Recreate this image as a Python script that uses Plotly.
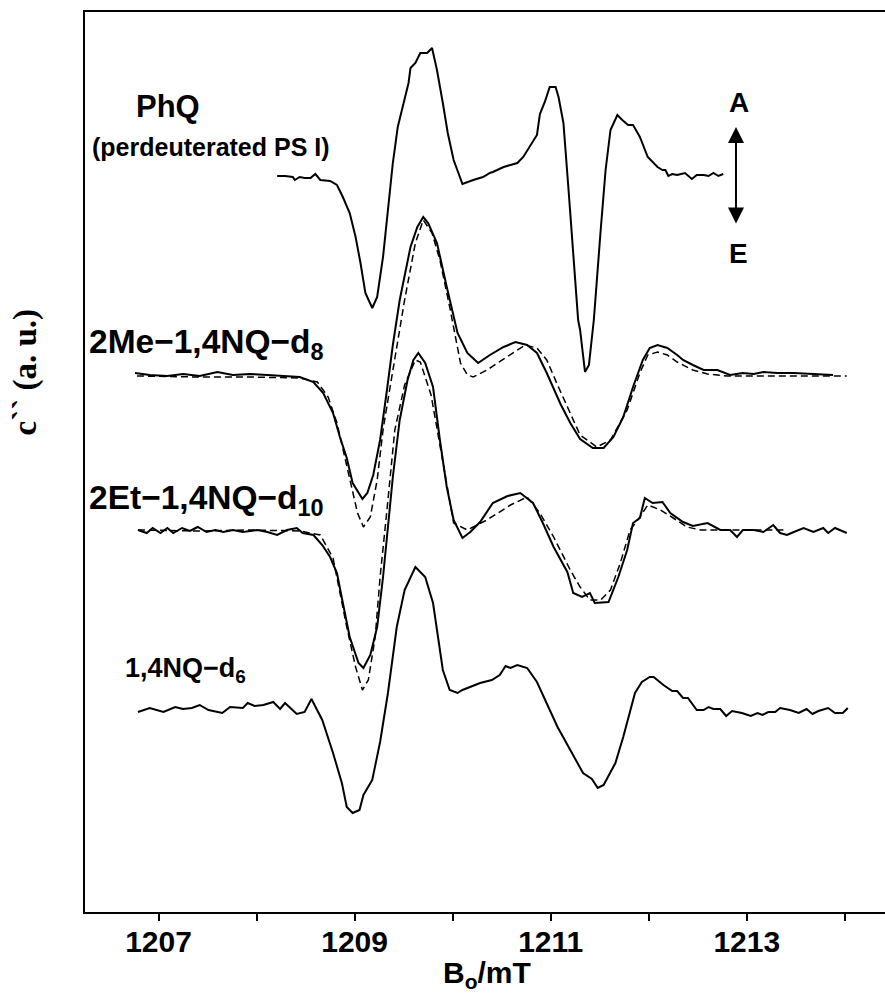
import plotly.graph_objects as go

# ---------------- data (field in mT, signal in arbitrary units) ----------------
offsets = {"PhQ": 7.35, "2Me": 5.37, "2Et": 3.81, "NQ": 2.02}

phq_x = [1208.21, 1208.29, 1208.37, 1208.39, 1208.44, 1208.49, 1208.55, 1208.60, 1208.65, 1208.75,
         1208.82, 1208.88, 1208.95, 1209.01, 1209.06, 1209.11, 1209.18, 1209.23, 1209.29, 1209.34,
         1209.39, 1209.44, 1209.51, 1209.55, 1209.57, 1209.62, 1209.67, 1209.74, 1209.79, 1209.84,
         1209.90, 1209.95, 1210.01, 1210.10, 1210.21, 1210.31, 1210.38, 1210.41, 1210.52, 1210.66,
         1210.72, 1210.81, 1210.86, 1210.89, 1210.94, 1210.99, 1211.05, 1211.08, 1211.13, 1211.18,
         1211.23, 1211.28, 1211.30, 1211.35, 1211.39, 1211.44, 1211.51, 1211.56, 1211.61, 1211.68,
         1211.73, 1211.79, 1211.84, 1211.91, 1211.99, 1212.09, 1212.14, 1212.17, 1212.20, 1212.24,
         1212.29, 1212.37, 1212.44, 1212.49, 1212.56, 1212.61, 1212.66, 1212.71, 1212.76]
phq_y = [0.01, 0.01, 0.00, -0.03, 0.00, -0.01, -0.01, 0.03, -0.03, -0.04,
         -0.08, -0.20, -0.36, -0.60, -0.86, -1.16, -1.31, -1.20, -0.80, -0.33,
         0.14, 0.50, 0.80, 0.94, 1.09, 1.14, 1.24, 1.24, 1.29, 1.07,
         0.74, 0.44, 0.17, -0.07, -0.03, 0.00, 0.04, 0.05, 0.10, 0.14,
         0.20, 0.34, 0.42, 0.63, 0.75, 0.90, 0.90, 0.80, 0.54, -0.10,
         -0.76, -1.43, -1.53, -1.95, -1.88, -1.43, -0.53, 0.07, 0.47, 0.62,
         0.57, 0.52, 0.52, 0.40, 0.20, 0.10, 0.07, 0.07, 0.01, 0.03,
         0.02, 0.04, -0.02, 0.02, 0.02, 0.01, 0.04, 0.01, 0.03]

me_x = [1206.76, 1206.91, 1207.09, 1207.25, 1207.42, 1207.60, 1207.76, 1207.93, 1208.11, 1208.27,
        1208.44, 1208.58, 1208.68, 1208.78, 1208.85, 1208.92, 1208.98, 1209.08, 1209.13, 1209.19,
        1209.26, 1209.33, 1209.39, 1209.46, 1209.57, 1209.64, 1209.70, 1209.75, 1209.84, 1209.94,
        1210.05, 1210.15, 1210.26, 1210.38, 1210.52, 1210.64, 1210.76, 1210.86, 1210.96, 1211.10,
        1211.20, 1211.30, 1211.43, 1211.54, 1211.64, 1211.74, 1211.84, 1211.94, 1212.01, 1212.09,
        1212.19, 1212.29, 1212.35, 1212.45, 1212.56, 1212.70, 1212.83, 1212.96, 1213.07, 1213.17,
        1213.31, 1213.48, 1213.68, 1213.88]
me_y = [0.02, 0.00, -0.01, 0.01, -0.01, 0.03, 0.00, 0.01, 0.00, -0.01,
        -0.02, -0.07, -0.18, -0.38, -0.62, -0.83, -1.08, -1.24, -1.18, -1.00,
        -0.65, -0.15, 0.30, 0.75, 1.28, 1.48, 1.58, 1.52, 1.32, 0.88,
        0.42, 0.22, 0.12, 0.20, 0.28, 0.33, 0.30, 0.22, 0.02, -0.29,
        -0.48, -0.64, -0.73, -0.73, -0.62, -0.42, -0.12, 0.15, 0.27, 0.30,
        0.27, 0.20, 0.15, 0.10, 0.05, 0.05, 0.00, 0.02, 0.01, 0.03,
        0.02, 0.02, 0.01, 0.00]

me_fit_x = [1206.78, 1207.42, 1207.93, 1208.44, 1208.62, 1208.73, 1208.82, 1208.92, 1209.03, 1209.09,
            1209.16, 1209.23, 1209.29, 1209.34, 1209.41, 1209.51, 1209.62, 1209.70, 1209.79, 1209.87,
            1209.97, 1210.08, 1210.15, 1210.21, 1210.35, 1210.56, 1210.74, 1210.86, 1210.96, 1211.07,
            1211.20, 1211.30, 1211.47, 1211.61, 1211.78, 1211.91, 1211.99, 1212.09, 1212.19, 1212.29,
            1212.45, 1212.60, 1212.80, 1214.02]
me_fit_y = [-0.01, -0.02, -0.02, -0.03, -0.07, -0.22, -0.48, -0.92, -1.38, -1.52,
            -1.42, -1.05, -0.55, -0.25, 0.15, 0.75, 1.32, 1.55, 1.42, 1.15,
            0.68, 0.12, 0.00, -0.02, 0.05, 0.18, 0.30, 0.27, 0.15, -0.10,
            -0.38, -0.60, -0.72, -0.65, -0.35, 0.02, 0.20, 0.23, 0.20, 0.13,
            0.05, 0.01, -0.01, -0.01]

et_x = [1206.79, 1206.88, 1206.94, 1207.02, 1207.09, 1207.15, 1207.24, 1207.32, 1207.40, 1207.49,
        1207.58, 1207.66, 1207.76, 1207.86, 1208.01, 1208.11, 1208.21, 1208.31, 1208.41, 1208.47,
        1208.58, 1208.67, 1208.75, 1208.82, 1208.87, 1208.95, 1209.04, 1209.09, 1209.16, 1209.23,
        1209.29, 1209.34, 1209.39, 1209.46, 1209.54, 1209.60, 1209.65, 1209.72, 1209.80, 1209.87,
        1209.94, 1210.01, 1210.10, 1210.18, 1210.28, 1210.41, 1210.56, 1210.69, 1210.82, 1210.92,
        1211.03, 1211.17, 1211.23, 1211.32, 1211.40, 1211.45, 1211.59, 1211.69, 1211.78, 1211.84,
        1211.91, 1211.96, 1212.04, 1212.14, 1212.22, 1212.35, 1212.45, 1212.60, 1212.73, 1212.83,
        1212.90, 1212.96, 1213.07, 1213.17, 1213.27, 1213.34, 1213.41, 1213.48, 1213.58, 1213.68,
        1213.78, 1213.83, 1213.90, 1214.02]
et_y = [0.01, -0.02, 0.03, -0.02, 0.03, -0.02, 0.03, 0.00, 0.04, -0.01,
        0.01, -0.01, 0.01, -0.01, 0.01, -0.01, -0.04, 0.01, 0.03, -0.02,
        -0.04, -0.14, -0.26, -0.42, -0.67, -1.06, -1.32, -1.37, -1.24, -0.96,
        -0.46, 0.04, 0.54, 1.11, 1.51, 1.71, 1.78, 1.68, 1.44, 0.91,
        0.44, 0.11, -0.07, -0.01, 0.09, 0.28, 0.35, 0.38, 0.28, 0.08,
        -0.16, -0.41, -0.62, -0.66, -0.62, -0.72, -0.71, -0.46, -0.19, 0.08,
        0.13, 0.33, 0.28, 0.29, 0.18, 0.09, 0.05, 0.08, 0.01, 0.01,
        -0.06, 0.01, 0.01, -0.01, 0.06, -0.02, -0.04, -0.01, 0.03, -0.01,
        0.03, -0.02, 0.03, -0.02]

et_fit_x = [1206.79, 1207.42, 1207.93, 1208.44, 1208.65, 1208.78, 1208.92, 1209.01, 1209.08, 1209.14,
            1209.21, 1209.26, 1209.33, 1209.41, 1209.51, 1209.62, 1209.67, 1209.78, 1209.87, 1209.94,
            1210.01, 1210.15, 1210.35, 1210.59, 1210.76, 1210.89, 1211.03, 1211.20, 1211.30, 1211.40,
            1211.51, 1211.61, 1211.71, 1211.81, 1211.91, 1211.99, 1212.12, 1212.25, 1212.39, 1212.53,
            1212.80, 1213.41]
et_fit_y = [0.01, 0.00, 0.01, 0.00, -0.04, -0.27, -0.96, -1.36, -1.59, -1.49,
            -1.06, -0.46, 0.21, 1.01, 1.46, 1.71, 1.69, 1.36, 0.86, 0.49,
            0.08, 0.01, 0.11, 0.26, 0.34, 0.18, -0.06, -0.39, -0.56, -0.69,
            -0.69, -0.59, -0.32, 0.01, 0.14, 0.26, 0.21, 0.13, 0.04, 0.01,
            0.01, 0.01]

nq_x = [1206.79, 1206.91, 1207.05, 1207.17, 1207.25, 1207.34, 1207.42, 1207.51, 1207.65, 1207.73,
        1207.86, 1207.91, 1207.98, 1208.07, 1208.17, 1208.24, 1208.29, 1208.41, 1208.49, 1208.56,
        1208.67, 1208.78, 1208.87, 1208.92, 1208.98, 1209.05, 1209.09, 1209.18, 1209.26, 1209.34,
        1209.43, 1209.51, 1209.62, 1209.72, 1209.80, 1209.90, 1209.97, 1210.05, 1210.10, 1210.18,
        1210.28, 1210.40, 1210.48, 1210.54, 1210.59, 1210.66, 1210.76, 1210.86, 1210.96, 1211.07,
        1211.20, 1211.33, 1211.42, 1211.48, 1211.54, 1211.66, 1211.74, 1211.81, 1211.86, 1211.93,
        1212.01, 1212.05, 1212.15, 1212.24, 1212.29, 1212.35, 1212.40, 1212.49, 1212.56, 1212.61,
        1212.66, 1212.73, 1212.79, 1212.85, 1212.95, 1213.04, 1213.11, 1213.16, 1213.22, 1213.29,
        1213.34, 1213.44, 1213.53, 1213.61, 1213.67, 1213.73, 1213.83, 1213.90, 1213.98, 1214.03]
nq_y = [-0.02, 0.02, -0.02, 0.03, 0.01, 0.02, 0.05, 0.00, -0.03, 0.03,
        0.02, 0.07, 0.04, 0.05, 0.08, 0.01, 0.07, -0.04, -0.02, 0.11,
        -0.10, -0.43, -0.73, -0.97, -1.03, -1.00, -0.85, -0.70, -0.32, 0.17,
        0.83, 1.20, 1.43, 1.33, 1.07, 0.40, 0.20, 0.17, 0.20, 0.23,
        0.27, 0.30, 0.35, 0.44, 0.42, 0.45, 0.42, 0.28, 0.07, -0.17,
        -0.40, -0.63, -0.69, -0.78, -0.75, -0.53, -0.27, 0.00, 0.17, 0.28,
        0.33, 0.33, 0.25, 0.19, 0.19, 0.12, 0.12, 0.00, 0.00, 0.03,
        0.01, 0.01, -0.06, -0.01, -0.03, -0.06, -0.03, -0.05, -0.02, -0.02,
        0.02, 0.00, -0.03, 0.01, -0.04, -0.01, 0.02, -0.03, -0.03, 0.02]

x_tick_vals = [1207, 1209, 1211, 1213]
x_tick_labels = ["<b>1207</b>", "<b>1209</b>", "<b>1211</b>", "<b>1213</b>"]
x_minor_ticks = [1208, 1210, 1212, 1214]
x_range = [1206.25, 1214.41]
y_range = [0.0, 9.0]

# ---------------- figure ----------------
SANS = "Liberation Sans, Arial, Helvetica, sans-serif"
fig = go.Figure()

def add(xs, ys, off, dashed=False):
    fig.add_trace(go.Scatter(
        x=xs, y=[off + v for v in ys], mode="lines",
        line=dict(color="black", width=1.5 if dashed else 2,
                  dash="7px,4px" if dashed else "solid"),
        showlegend=False, hoverinfo="skip"))

add(phq_x, phq_y, offsets["PhQ"])
add(me_fit_x, me_fit_y, offsets["2Me"], dashed=True)
add(me_x, me_y, offsets["2Me"])
add(et_fit_x, et_fit_y, offsets["2Et"], dashed=True)
add(et_x, et_y, offsets["2Et"])
add(nq_x, nq_y, offsets["NQ"])

labels = [
    dict(text="<b>PhQ</b>", x=1207.10, y=8.06, xanchor="center", size=31),
    dict(text="<b>(perdeuterated PS I)</b>", x=1206.30, y=7.65, xanchor="left", size=25),
    dict(text="<b>2Me\u22121,4NQ\u2212d<sub>8</sub></b>", x=1206.27, y=5.68, xanchor="left", size=33.5),
    dict(text="<b>2Et\u22121,4NQ\u2212d<sub>10</sub></b>", x=1206.27, y=4.12, xanchor="left", size=33.5),
    dict(text="<b>1,4NQ\u2212d<sub>6</sub></b>", x=1206.64, y=2.42, xanchor="left", size=27),
    dict(text="<b>A</b>", x=1212.92, y=8.10, xanchor="center", size=28),
    dict(text="<b>E</b>", x=1212.92, y=6.59, xanchor="center", size=28),
]
for lb in labels:
    fig.add_annotation(x=lb["x"], y=lb["y"], xref="x", yref="y", text=lb["text"],
                       showarrow=False, xanchor=lb["xanchor"], yanchor="middle",
                       font=dict(family=SANS, size=lb["size"], color="black"))

# double-headed arrow A <-> E
fig.add_annotation(x=1212.89, y=7.85, ax=1212.89, ay=6.87, xref="x", yref="y",
                   axref="x", ayref="y", text="", showarrow=True,
                   arrowhead=2, startarrowhead=2, arrowside="end+start",
                   arrowsize=1.6, startarrowsize=1.6, arrowwidth=2, arrowcolor="black")

# axis titles
fig.add_annotation(xref="paper", yref="paper", x=0.5025, y=-0.069, xanchor="center", yanchor="middle",
                   text="<b>B<sub>o</sub>/mT</b>", showarrow=False,
                   font=dict(family=SANS, size=30, color="black"))
fig.add_annotation(xref="paper", yref="paper", x=-0.0745, y=0.60, xanchor="center", yanchor="middle",
                   text="<b>c`` (a. u.)</b>", textangle=-90, showarrow=False,
                   font=dict(family="Liberation Serif, Times New Roman, serif", size=33, color="black"))

fig.update_layout(
    width=885, height=994,
    margin=dict(l=85, r=0, t=12, b=82),
    paper_bgcolor="white", plot_bgcolor="white",
    xaxis=dict(range=x_range, tickvals=x_tick_vals, ticktext=x_tick_labels,
               ticks="outside", ticklen=7, tickwidth=2, tickcolor="black",
               ticklabelstandoff=-5,
               minor=dict(tickvals=x_minor_ticks, ticks="outside",
                          ticklen=7, tickwidth=2, tickcolor="black", showgrid=False),
               showline=True, linecolor="black", linewidth=2, mirror=True,
               showgrid=False, zeroline=False,
               tickfont=dict(family=SANS, size=30, color="black")),
    yaxis=dict(range=y_range, showticklabels=False, ticks="",
               showline=True, linecolor="black", linewidth=2, mirror=False,
               showgrid=False, zeroline=False),
)

fig.write_html("out.html")
